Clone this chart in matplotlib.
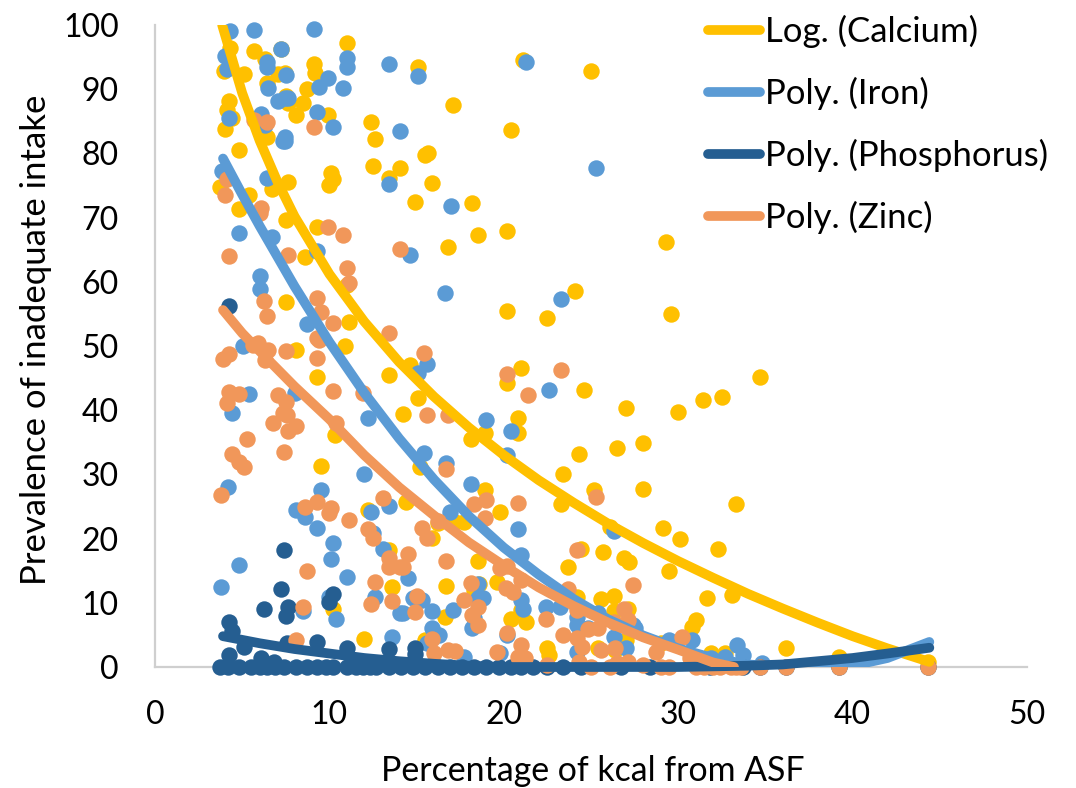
# -*- coding: utf-8 -*-
import matplotlib
matplotlib.use('Agg')
import matplotlib.pyplot as plt

plt.rcParams['font.family'] = ['Lato', 'DejaVu Sans']

# points: kcal from ASF (%), prevalence (%)
calcium_x = [4.3, 3.96, 5.1, 5.7, 6.3, 7.2, 6.4, 7.05, 7.45, 7.5, 7.6, 8.7, 8.5, 8.1, 9.1, 9.2, 9.9, 11, 4.25, 4.15,
             4.4, 4.0, 4.8, 6.4, 12.4, 12.6, 12.5, 13.4, 14.05, 3.75, 5.4, 4.8, 6.7, 7.6, 10.1, 10.2, 10, 7.5, 9.3,
             8.6, 7.5, 11.1, 11, 15.1, 15.65, 15.5, 15.9, 14.9, 17.1, 16.8, 18.2, 18.5, 20.2, 20.4, 21.1, 25, 29.3,
             29.6, 24.1, 22.5, 20.2, 30, 31.4, 32.5, 34.7, 33.3, 32.3, 33.1, 31.65, 31, 30.8, 29.5, 29.1, 30.1,
             14.6, 21, 20.2, 24.6, 27, 15.1, 14.2, 18.1, 18.9, 20.8, 20.8, 24.3, 26.5, 28, 23.4, 28, 25.2, 23.3,
             15.2, 14.4, 18.9, 19.8, 16.2, 17.7, 17.2, 15.9, 26.1, 25.7, 24.4, 26.9, 27.2, 23.7, 18.5, 16.7, 19.6,
             18.6, 18.3, 24.2, 25.6, 26.3, 26.3, 16.6, 20.4, 21.3, 21, 22.5, 22.6, 15.5, 25.4, 8.1, 10.9, 9.3,
             13.4, 10.3, 9.5, 12.2, 13.4, 13.6, 10.2, 12, 36.2, 39.2, 44.3, 29, 27, 26.4, 27.1, 31.9, 32.7]
calcium_y = [96.4, 92.8, 92.4, 96, 94.7, 96.3, 91, 92.4, 92.5, 89, 87.8, 90, 87.8, 86, 94, 92.5, 86, 97.2, 88.2, 86.8,
             85.5, 83.8, 80.5, 82.6, 84.9, 82.2, 78, 76.2, 77.7, 74.8, 73.5, 71.3, 74.5, 75.5, 77, 76, 75.1, 69.6, 68.5,
             63.9, 56.9, 53.8, 59.5, 93.5, 80, 79.8, 75.4, 72.4, 87.5, 65.4, 72.3, 67.3, 67.9, 83.6, 94.5, 92.8, 66.2,
             55, 58.6, 54.4, 55.4, 39.7, 41.6, 42, 45.2, 25.4, 18.4, 11.2, 10.7, 7.3, 6.2, 15, 21.7, 19.9,
             47, 46.6, 44.2, 43.1, 40.3, 41.9, 39.4, 35.5, 36.4, 38.8, 36.4, 33.2, 34.1, 34.9, 30, 27.7, 27.6, 25.4,
             31.2, 25.7, 27.6, 24.1, 22.4, 22.6, 22.6, 20.1, 21.8, 17.9, 18.4, 17, 16.4, 15.6, 16.5, 12.6, 13.2,
             12.9, 12, 10.9, 10.6, 11.1, 8.7, 7.8, 7.5, 7, 8.9, 3, 1.9, 4.2, 3, 49.4, 50, 45.2,
             45.5, 36.1, 31.3, 24.5, 18.2, 12.5, 9, 4.4, 3, 1.6, 0.8, 3.7, 4.2, 2.6, 9, 2.2, 2.2]

iron_x = [4.3, 5.7, 9.1, 4, 4.1, 7.2, 6.4, 6.4, 7.5, 6.5, 7.05, 7.45, 7.6, 9.9, 9.4, 10.8, 11, 11, 13.4, 4.25, 9.3,
          10.2, 6.1, 6.3, 7.45, 7.45, 7.35, 14.05, 13.4, 6.4, 3.85, 4.8, 6.7, 9.3, 6, 6, 8.7, 25.3, 21.3, 15.1,
          14.6, 17, 16.6, 23.3, 22.6, 5.05, 5.4, 4.4, 8, 12.2, 4.2, 12, 9.5, 8.1, 8.6, 9.3, 10.2, 10.1, 13.4, 12.4,
          12.5, 13.1, 4.8, 11, 3.8, 12.6, 10, 10.4, 8.5, 14.05, 13.6, 15.6, 15.1, 19, 20.4, 20.2, 15.4, 16.7, 18.1,
          16.9, 20.8, 26.3, 21, 14.5, 18.5, 18.8, 18.5, 21, 21.1, 14.8, 15.3, 14.2, 15.9, 17.1, 22.4, 24.2, 24.2,
          24.8, 25.4, 27.4, 26.3, 27, 24.2, 15.9, 16.3, 15.6, 18.2, 18.3, 20.2, 19.8, 17.7, 30.8, 33.4, 32.7, 33.7,
          34.8, 29.5, 27.5, 23.2, 31.9]
iron_y = [99, 99.2, 99.4, 95.2, 93.1, 96.3, 94.2, 93.4, 92.2, 90.2, 88.2, 88.6, 88.6, 91.7, 90.3, 90.2, 94.9, 93.5, 93.9,
          85.5, 86.4, 84.1, 86.1, 84.4, 82.6, 81.9, 81.9, 83.5, 75.2, 76.2, 77.3, 67.6, 67, 64.8, 60.9, 58.9, 53.4, 77.7,
          94.2, 92.1, 64.2, 71.8, 58.3, 57.3, 43.2, 50, 42.5, 39.6, 42.7, 38.8, 28, 30, 27.6, 24.5, 23.4, 21.7, 19.3,
          16.8, 25.1, 24.1, 20.9, 18.4, 15.9, 14, 12.5, 10.9, 10.9, 7.5, 8.7, 8.4, 4.7, 47.2, 45.8, 38.5, 36.8, 33, 33.3,
          31.8, 28.5, 24.1, 21.5, 21.2, 17.4, 13.9, 12.9, 10.7, 10.7, 10.4, 9, 10.7, 10.4, 8.4, 8.7, 8.9, 9.3, 7.8, 6.5,
          6, 8.4, 6.5, 4.7, 3, 2.3, 6, 5, 3.7, 6, 7.6, 5, 2.2, 1.6, 4.2, 3.4, 1.5, 1.9, 0.6, 4.2, 6.1, 9.3, 1.4]

phosphorus_x = [4.25, 7.4, 7.2, 6.25, 7.6, 7.5, 10.2, 10, 4.25, 4.4, 9.3, 11, 13.4, 7.55, 5.1, 4.25, 6.1, 6.8, 14.9, 14.9,
                3.75, 4.2, 4.8, 5.5, 6, 6.4, 6.9, 7.4, 8.1, 8.7, 9.3, 9.8, 10.2, 11, 11.5, 11.9, 12.3, 12.7, 13.4, 14.1,
                14.8, 15.5, 16.2, 16.9, 17.6, 18.3, 19, 19.7, 20.4, 21, 21.7, 22.5, 23.4, 24.4, 26.7, 28.4, 31.8, 33.7,
                34.7, 36.2, 39.2, 44.3]
phosphorus_y = [56.2, 18.2, 12.2, 9, 9.4, 8, 11.4, 10.1, 7, 5.6, 3.9, 3, 2.8, 3.7, 3.1, 1.9, 1.4, 0.8, 3, 2,
                0, 0, 0, 0, 0, 0, 0, 0, 0, 0, 0, 0, 0, 0, 0, 0, 0, 0, 0, 0,
                0, 0, 0, 0, 0, 0, 0, 0, 0, 0, 0, 0, 0, 0, 0, 0, 0, 0,
                0, 0, 0, 0]

zinc_x = [6.4, 5.7, 9.1, 4.1, 4, 6.1, 6, 9.9, 10.8, 4.25, 7.6, 11, 11.1, 14.05, 6.25, 6.4, 9.3, 9.5, 10.2, 13.4, 9.3, 5.9,
          3.9, 4.25, 5.6, 6.5, 6.3, 7.5, 9.3, 9.4, 10.2, 11.9, 4.25, 4.8, 4.1, 7.05, 7.5, 7.35, 7.55, 6.75, 8.1, 7.6,
          5.3, 7.4, 4.4, 4.8, 5.1, 3.8, 10.4, 9.3, 8.6, 10.1, 10, 11.1, 13.1, 12.2, 12.5, 13.4, 13.4, 14.05, 8.7, 12.6,
          12.4, 13.6, 8.5, 8.1, 15.4, 20.2, 23.3, 21.4, 15.6, 16.8, 16.7, 25.3, 19, 18.3, 20.8, 18.9, 16.2, 15.3, 15.6,
          24.2, 27.4, 16.7, 14.5, 14.2, 19.8, 20.2, 21, 23.7, 18.1, 20.1, 20.5, 17.7, 15, 14.9, 18.5, 18.2, 18.5, 26.9,
          26.3, 27.1, 22.4, 24.8, 25.4, 24.2, 23.4, 20.2, 15.9, 16, 16.8, 17.2, 19.6, 21, 20.8, 21.2, 24.2, 24.5, 25.6,
          26.4, 24.3, 25, 26.1, 27.1, 26.5, 28, 22.5, 30.2, 28.7, 34.7, 44.3, 32.4, 33.3, 30.7, 36.2,
          29, 29.5, 31, 31.5, 32, 33, 33.6, 39.2]
zinc_y = [84.9, 85.2, 84.1, 76, 73.5, 71.5, 70.7, 68.5, 67.3, 64, 64.2, 62.1, 59.8, 65.1, 57, 54.7, 57.5, 55.3, 53.6, 52, 51.2, 50.5,
          48, 48.8, 50.2, 49.4, 47.8, 49.2, 48.1, 51, 43, 42.7, 42.8, 42.5, 41.1, 42.4, 41.3, 39.6, 39.3, 38, 37.6, 36.8,
          35.5, 33.5, 33.2, 32, 31.2, 26.8, 38, 25.7, 24.9, 24.8, 24, 22.9, 26.3, 21.5, 20.1, 17, 15.6, 15.6, 15, 13.2,
          9.8, 10.3, 9.4, 4.2, 48.9, 45.6, 46.3, 42.4, 39.3, 39.3, 30.8, 26.5, 26, 25.4, 25.5, 23.2, 22.7, 21.7, 20.1,
          18.2, 12.8, 16.5, 17.6, 15.6, 15.4, 15.7, 13.6, 12.2, 13.1, 12.3, 11.7, 10.4, 11.1, 8.6, 9.3, 8.1, 6.5, 9,
          7, 7.3, 7.5, 5.9, 6, 8.9, 5, 5.3, 4.4, 2.2, 2.6, 2.5, 2.3, 3.4, 1.6, 1.4, 4.5, 3.1, 2.6,
          3, 0.8, 0, 0, 0.8, 0.6, 0.3, 0.3, 4.7, 2.3, 0, 0, 0, 0, 1.4, 0,
          0, 0, 0, 0, 0, 0, 0, 0]

# trendlines, also
calcium_trend_x = [3.85, 5, 6, 7, 8, 10, 12, 14, 16, 18, 20, 22, 24, 26, 28, 30, 32, 34, 36, 38, 40, 42, 44.4]
calcium_trend_y = [100, 89.4, 82, 75.7, 70.2, 61.2, 53.8, 47.5, 42.1, 37.3, 33, 29.1, 25.6, 22.3, 19.3, 16.5, 13.9,
                   11.4, 9.1, 6.9, 4.8, 2.9, 0.8]
iron_trend_x = [3.9, 5, 6, 8, 10, 12, 14, 16, 18, 20, 22, 24, 26, 28, 30, 32, 34, 36, 38, 40, 42, 44.4]
iron_trend_y = [79.2, 73.6, 68.7, 59.3, 50.6, 42.7, 35.6, 29.2, 23.5, 18.6, 14.4, 10.6, 7.4, 4.9, 2.9, 1.4, 0.4, 0, 0,
                0.2, 1.4, 3.9]
phosphorus_trend_x = [3.9, 6, 8, 10, 12, 14, 16, 18, 20, 24, 30, 34, 36, 38, 40, 42, 44.4]
phosphorus_trend_y = [4.8, 3.7, 2.8, 2.1, 1.4, 0.9, 0.5, 0.2, 0, 0, 0, 0.2, 0.4, 0.9, 1.4, 2.1, 3.0]
zinc_trend_x = [3.9, 5, 6, 8, 10, 12, 14, 16, 18, 20, 22, 24, 26, 28, 30, 32, 33.2]
zinc_trend_y = [55.6, 52, 49.2, 43.7, 38.6, 33, 28, 23.6, 19.4, 15.8, 12.4, 9.5, 6.9, 4.6, 2.7, 0.7, 0]

tick_x = [0, 10, 20, 30, 40, 50]
tick_y = [0, 10, 20, 30, 40, 50, 60, 70, 80, 90, 100]

fig = plt.figure(figsize=(10.76, 7.88), dpi=100)
ax = fig.add_axes([155 / 1076, 1 - 667 / 788, 872 / 1076, 642 / 788])

ax.scatter(calcium_x, calcium_y, s=140, color='#FFC000', linewidths=0, clip_on=False, zorder=3)
ax.scatter(iron_x, iron_y, s=140, color='#5B9BD5', linewidths=0, clip_on=False, zorder=4)
ax.scatter(phosphorus_x, phosphorus_y, s=140, color='#255E91', linewidths=0, clip_on=False, zorder=5)
ax.scatter(zinc_x, zinc_y, s=140, color='#F1975A', linewidths=0, clip_on=False, zorder=6)

l1, = ax.plot(calcium_trend_x, calcium_trend_y, color='#FFC000', lw=7, solid_capstyle='round', zorder=7)
l2, = ax.plot(iron_trend_x, iron_trend_y, color='#5B9BD5', lw=7, solid_capstyle='round', zorder=8)
l3, = ax.plot(phosphorus_trend_x, phosphorus_trend_y, color='#255E91', lw=7, solid_capstyle='round', zorder=9,
              clip_on=False)
l4, = ax.plot(zinc_trend_x, zinc_trend_y, color='#F1975A', lw=7, solid_capstyle='round', zorder=10)

ax.set_xlim(0, 50)
ax.set_ylim(0, 100)
ax.set_xticks(tick_x)
ax.set_yticks(tick_y)
ax.tick_params(axis='x', length=0, labelsize=23, pad=24)
ax.tick_params(axis='y', length=0, labelsize=23, pad=26)
ax.spines['top'].set_visible(False)
ax.spines['right'].set_visible(False)
ax.spines['left'].set_color('#CFCFCF')
ax.spines['bottom'].set_color('#CFCFCF')
ax.spines['left'].set_linewidth(1.6)
ax.spines['bottom'].set_linewidth(1.6)
ax.set_xlabel('Percentage of kcal from ASF', fontsize=24.4)
ax.set_ylabel('Prevalence of inadequate intake', fontsize=25)
ax.xaxis.set_label_coords(0.502, -0.137)
ax.yaxis.set_label_coords(-0.118, 0.509)

fig.legend([l1, l2, l3, l4], ['Log. (Calcium)', 'Poly. (Iron)', 'Poly. (Phosphorus)', 'Poly. (Zinc)'],
           loc='upper left', bbox_to_anchor=(708 / 1076, 1 - 15 / 788), frameon=False, fontsize=25,
           handlelength=1.5, handletextpad=0.14, labelspacing=0.83, borderpad=0, borderaxespad=0)

fig.savefig('out.png', dpi=100)
